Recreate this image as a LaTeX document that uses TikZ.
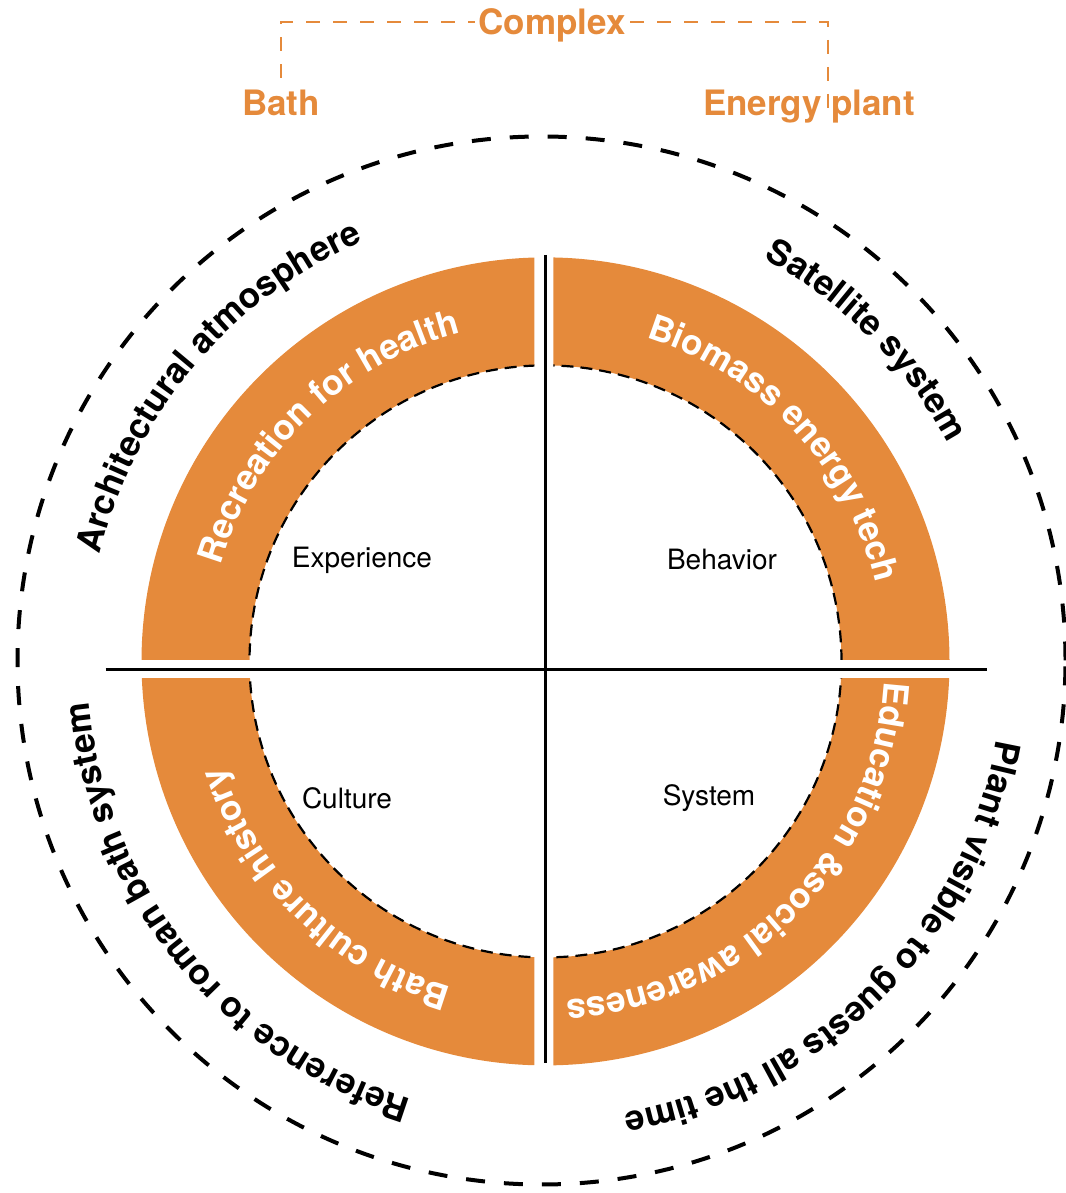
\documentclass[tikz,border=0pt]{standalone}
\usepackage{fontspec}
\setmainfont{TeX Gyre Heros}
\usetikzlibrary{calc,decorations.text}

\definecolor{ringorange}{RGB}{229,138,59}
\newcommand{\ringfmt}{\bfseries\fontsize{35}{42}\selectfont\color{white}}
\newcommand{\rimfmt}{\bfseries\fontsize{35}{42}\selectfont\color{black}}

\begin{document}
\begin{tikzpicture}[x=1pt, y=1pt,
        quad/.style={fill=ringorange},
        innerdash/.style={line width=2.2pt, dash pattern=on 12pt off 7pt},
        rim/.style={line width=4pt, dash pattern=on 19pt off 19pt},
        axis/.style={line width=2.5pt},
        field/.style={font=\fontsize{28}{34}\selectfont},
        tag/.style={text=ringorange, font=\bfseries\fontsize{35}{42}\selectfont},
        bracket/.style={draw=ringorange, line width=1.6pt, dash pattern=on 14pt off 13pt},
        arclabel/.style={decorate, decoration={text along path, text align=center, text={#1}}}
    ]
    \useasboundingbox (0,0) rectangle (1065,1193);

    \coordinate (c) at (545.5,531.6);
    \coordinate (o) at (541.5,532.5);

    % outer dashed ring
    \draw[rim] (o) circle[radius=524];

    % four quadrants of the orange ring
    \foreach \xa/\ya/\xb/\yb in {0/533.7/534.3/1193, 553.3/533.7/1065/1193,
                                 0/0/534.3/514.7, 553.3/0/1065/514.7}{
        \begin{scope}
            \clip (\xa,\ya) rectangle (\xb,\yb);
            \fill[quad, even odd rule] (c) circle[radius=404] (c) circle[radius=296];
            \draw[innerdash] (c) circle[radius=296];
        \end{scope}
    }

    \coordinate (west) at (105.7,523.7);
    \coordinate (east) at (987,523.7);
    \coordinate (north) at (545.7,938);
    \coordinate (south) at (545.7,130);
    \draw[axis] (west) -- (east);
    \draw[axis] (north) -- (south);

    \node[field] (exp) at (362,633) {Experience};
    \node[field] (beh) at (722,633) {Behavior};
    \node[field] (cul) at (347,395) {Culture};
    \node[field] (sys) at (709,395) {System};

    % texts in the ring
    \path[arclabel={|\ringfmt|Recreation for health}]
        ($(c)+(209:339)$) arc[start angle=209, end angle=59, radius=339];
    \path[arclabel={|\ringfmt|Biomass energy tech}]
        ($(c)+(118:339)$) arc[start angle=118, end angle=-32, radius=339];
    \path[arclabel={|\ringfmt|Education {\&}social awareness}]
        ($(c)+(30:339)$) arc[start angle=30, end angle=-120, radius=339];
    \path[arclabel={|\ringfmt|Bath culture history}]
        ($(c)+(-59:339)$) arc[start angle=-59, end angle=-209, radius=339];

    % texts around the ring
    \path[arclabel={|\rimfmt|Architectural atmosphere}]
        ($(c)+(215:458)$) arc[start angle=215, end angle=65, radius=458];
    \path[arclabel={|\rimfmt|Satellite system}]
        ($(c)+(120:458)$) arc[start angle=120, end angle=-30, radius=458];
    \path[arclabel={|\rimfmt|Plant visible to guests all the time}]
        ($(c)+(30:458)$) arc[start angle=30, end angle=-120, radius=458];
    \path[arclabel={|\rimfmt|Reference to roman bath system}]
        ($(c)+(-66:458)$) arc[start angle=-66, end angle=-216, radius=458];

    % bath / plant bracket
    \coordinate (bathend) at (281,1115);
    \coordinate (plantend) at (828,1075);
    \coordinate (apex) at (552,1171);
    \draw[bracket] (bathend) |- (apex) -| (plantend);
    \node[tag, fill=white, inner sep=3pt, anchor=base] (complex) at (552,1158) {Complex};
    \node[tag, anchor=base] (bath) at (281,1077) {Bath};
    \node[tag, anchor=base] (plant) at (809,1077) {Energy plant};
\end{tikzpicture}
\end{document}
